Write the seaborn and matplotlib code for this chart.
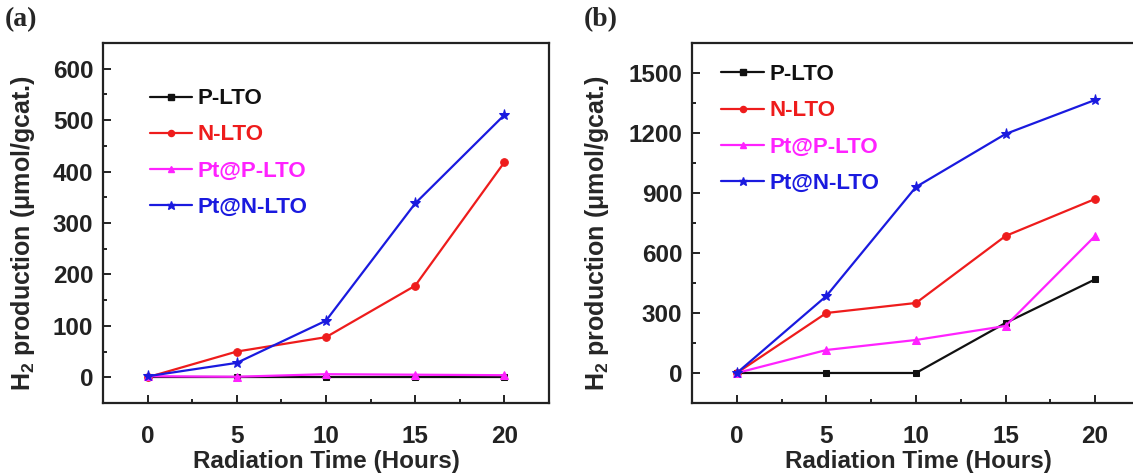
import numpy as np
import pandas as pd
import matplotlib
matplotlib.use("Agg")
import matplotlib.pyplot as plt
from matplotlib.lines import Line2D
from matplotlib.ticker import MultipleLocator
import seaborn as sns

# Radiation time (hours)
hours = [0, 5, 10, 15, 20]
series_names = ["P-LTO", "N-LTO", "Pt@P-LTO", "Pt@N-LTO"]

# Panel (a): H2 production (umol/gcat.)
a_p_lto = [0, 0, 0, 0, 0]
a_n_lto = [0, 50, 78, 178, 418]
a_pt_p_lto = [2, 1, 6, 5, 4]
a_pt_n_lto = [2, 28, 110, 338, 510]

# Panel (b): H2 production (umol/gcat.)
b_p_lto = [0, 0, 0, 250, 468]
b_n_lto = [0, 300, 350, 685, 870]
b_pt_p_lto = [0, 115, 165, 235, 685]
b_pt_n_lto = [0, 385, 930, 1195, 1365]

colors = {"P-LTO": "#111111", "N-LTO": "#ee1c1c",
          "Pt@P-LTO": "#ff22ff", "Pt@N-LTO": "#1a1adf"}
markers = {"P-LTO": "s", "N-LTO": "o", "Pt@P-LTO": "^", "Pt@N-LTO": "*"}
msize = {"P-LTO": 5, "N-LTO": 5.5, "Pt@P-LTO": 6, "Pt@N-LTO": 8}

sns.set_theme(style="ticks")
plt.rcParams.update({
    "font.family": ["Liberation Sans", "DejaVu Sans"],
    "font.weight": "bold",
    "axes.labelweight": "bold",
    "mathtext.fontset": "custom",
    "mathtext.rm": "Liberation Sans:bold",
    "mathtext.bf": "Liberation Sans:bold",
    "axes.edgecolor": "#222222",
    "axes.linewidth": 1.6,
})


def long_frame(values):
    rows = []
    for name, ys in zip(series_names, values):
        for h, y in zip(hours, ys):
            rows.append({"time": h, "h2": y, "sample": name})
    return pd.DataFrame(rows)


fig = plt.figure(figsize=(11.33, 4.76), dpi=100)
ax_a = fig.add_axes([0.0909, 0.1534, 0.3936, 0.7563])
ax_b = fig.add_axes([0.6108, 0.1534, 0.4000, 0.7563])

panels = [
    (ax_a, [a_p_lto, a_n_lto, a_pt_p_lto, a_pt_n_lto], (-50, 650), 100, 50,
     (-2.5, 22.5), (0.105, 0.874), "(a)", 0.004, -0.148),
    (ax_b, [b_p_lto, b_n_lto, b_pt_p_lto, b_pt_n_lto], (-150, 1650), 300, 150,
     (-2.5, 22.8), (0.065, 0.941), "(b)", 0.515, -0.178),
]

for ax, vals, ylim, major, minor, xlim, leg_pos, tag, tag_x, ylab_x in panels:
    df = long_frame(vals)
    for name in series_names:
        sub = df[df["sample"] == name]
        sns.lineplot(data=sub, x="time", y="h2", ax=ax, color=colors[name],
                     marker=markers[name], markersize=msize[name],
                     markeredgecolor=colors[name], linewidth=1.6,
                     legend=False)
    ax.set_xlim(*xlim)
    ax.set_ylim(*ylim)
    ax.xaxis.set_major_locator(MultipleLocator(5))
    ax.xaxis.set_minor_locator(MultipleLocator(2.5))
    ax.yaxis.set_major_locator(MultipleLocator(major))
    ax.yaxis.set_minor_locator(MultipleLocator(minor))
    ax.tick_params(which="both", direction="in", top=False, right=False,
                   labelsize=17.5, width=1.4, colors="#222222")
    ax.tick_params(which="major", length=6)
    ax.tick_params(which="minor", length=3)
    ax.tick_params(axis="x", which="major", pad=16)
    ax.tick_params(axis="y", which="major", pad=7)
    for lab in ax.get_xticklabels() + ax.get_yticklabels():
        lab.set_fontweight("bold")
    for sp in ax.spines.values():
        sp.set_visible(True)
    ax.set_xlabel("Radiation Time (Hours)", fontsize=17.5, fontweight="bold",
                  labelpad=1)
    ax.set_ylabel(r"H$_2$ production (μmol/gcat.)", fontsize=18,
                  fontweight="bold")
    ax.yaxis.set_label_coords(ylab_x, 0.472)

    handles = [Line2D([], [], color=colors[n], marker=markers[n],
                      markersize=msize[n] * 0.8, linewidth=1.6) for n in series_names]
    leg = ax.legend(handles, series_names, loc="upper left",
                    bbox_to_anchor=leg_pos, frameon=False,
                    handlelength=1.9, handletextpad=0.25, labelspacing=0.68,
                    borderpad=0, borderaxespad=0,
                    prop={"weight": "bold", "size": 16})
    for txt, n in zip(leg.get_texts(), series_names):
        txt.set_color(colors[n])

    fig.text(tag_x, 0.985, tag, fontsize=20, fontweight="bold",
             family="Liberation Serif", va="top", ha="left")

fig.savefig("out.png", dpi=100)
